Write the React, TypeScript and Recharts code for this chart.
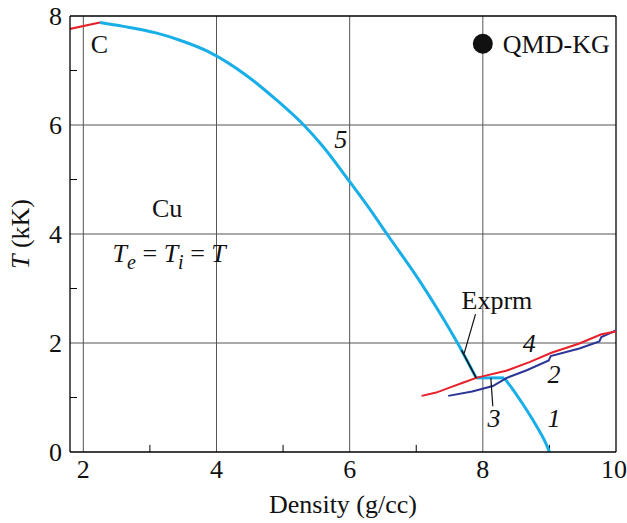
import React from 'react';
import { LineChart, Line, XAxis, YAxis, ReferenceLine, ReferenceDot } from 'recharts';

const FONT = 'Liberation Serif, Times New Roman, serif';

// axis ticks
const xTicks = [2, 4, 6, 8, 10];
const yTicks = [0, 2, 4, 6, 8];
const xMinor = [3, 5, 7, 9];
const yMinor = [1, 3, 5, 7];
const xGrid = [2, 4, 6, 8];
const yGrid = [2, 4, 6];

// curve 5 (cyan, upper branch)
const cyanUpper = [
  { x: 2.25, y: 7.88 }, { x: 2.6, y: 7.81 }, { x: 3.09, y: 7.69 }, { x: 3.44, y: 7.56 },
  { x: 3.87, y: 7.35 }, { x: 4.47, y: 6.89 }, { x: 4.9, y: 6.46 },
  { x: 5.31, y: 6.0 }, { x: 5.59, y: 5.62 }, { x: 6.0, y: 4.96 },
  { x: 6.3, y: 4.46 }, { x: 6.56, y: 4.0 }, { x: 7.05, y: 3.14 }, { x: 7.35, y: 2.56 },
  { x: 7.62, y: 2.0 }, { x: 7.9, y: 1.36 },
];
// curve 3 (cyan, flat part)
const cyanFlat = [{ x: 7.9, y: 1.36 }, { x: 8.32, y: 1.36 }];
// curve 1 (cyan, lower branch)
const cyanLower = [
  { x: 8.32, y: 1.36 }, { x: 8.45, y: 1.15 }, { x: 8.6, y: 0.88 }, { x: 8.75, y: 0.59 },
  { x: 8.87, y: 0.34 }, { x: 8.95, y: 0.15 }, { x: 9.0, y: 0.0 },
];
// red at top-left
const redTop = [{ x: 1.79, y: 7.76 }, { x: 2.25, y: 7.88 }];
// curve 4 (red)
const redCurve = [
  { x: 7.08, y: 1.03 }, { x: 7.3, y: 1.09 }, { x: 7.52, y: 1.19 }, { x: 7.7, y: 1.27 },
  { x: 7.9, y: 1.36 }, { x: 8.35, y: 1.49 }, { x: 8.7, y: 1.65 }, { x: 9.03, y: 1.82 },
  { x: 9.45, y: 1.99 }, { x: 9.78, y: 2.16 }, { x: 10.0, y: 2.21 },
];
// curve 2 (navy)
const navyCurve = [
  { x: 7.48, y: 1.03 }, { x: 7.84, y: 1.11 }, { x: 8.15, y: 1.21 }, { x: 8.36, y: 1.36 },
  { x: 8.66, y: 1.5 }, { x: 8.99, y: 1.68 }, { x: 9.02, y: 1.76 }, { x: 9.45, y: 1.9 },
  { x: 9.75, y: 2.03 }, { x: 9.78, y: 2.11 }, { x: 10.0, y: 2.23 },
];
// experiment segment and leaders
const exprmSeg = [{ x: 7.68, y: 1.87 }, { x: 7.9, y: 1.36 }];
const exprmLeader = [{ x: 7.89, y: 2.53 }, { x: 7.72, y: 1.81 }];
const leader3 = [{ x: 8.12, y: 1.36 }, { x: 8.15, y: 0.84 }];
// QMD-KG point
const qmdPoint = { x: 8.0, y: 7.49 };

// text annotations (data coords of left/baseline)
const annotations = [
  { x: 2.11, y: 7.33, text: 'C', italic: false },
  { x: 8.3, y: 7.32, text: 'QMD-KG', italic: false },
  { x: 5.77, y: 5.57, text: '5', italic: true },
  { x: 3.03, y: 4.31, text: 'Cu', italic: false },
  { x: 7.68, y: 2.62, text: 'Exprm', italic: false },
  { x: 8.6, y: 1.84, text: '4', italic: true },
  { x: 8.97, y: 1.26, text: '2', italic: true },
  { x: 8.07, y: 0.46, text: '3', italic: true },
  { x: 8.97, y: 0.46, text: '1', italic: true },
];
const equationAnchor = { x: 2.44, y: 3.49 };

const FS = 26;
const GRID = '#555';
const CYAN = '#18aee8';
const RED = '#e8202a';
const NAVY = '#2b3595';

export default function App() {
  return (
    <div>
      <style>{'body{margin:0}'}</style>
      <LineChart width={627} height={523} margin={{ top: 16, right: 11, bottom: 0, left: 8 }}>
        <XAxis
          dataKey="x"
          type="number"
          domain={[1.8, 10]}
          ticks={xTicks}
          allowDataOverflow
          tickLine={false}
          axisLine={{ stroke: '#000', strokeWidth: 1.3 }}
          height={71}
          tick={{ fill: '#111', fontSize: FS, fontFamily: FONT }}
          label={{
            content: (p: any) => {
              const vb = p.viewBox;
              return (
                <text x={vb.x + vb.width / 2} y={vb.y + 61} textAnchor="middle" fontSize={FS} fontFamily={FONT} fill="#111">
                  Density (g/cc)
                </text>
              );
            },
          }}
        />
        <YAxis
          type="number"
          domain={[0, 8]}
          ticks={yTicks}
          allowDataOverflow
          tickLine={false}
          axisLine={{ stroke: '#000', strokeWidth: 1.3 }}
          width={62}
          tick={{ fill: '#111', fontSize: FS, fontFamily: FONT }}
          label={{
            content: (p: any) => {
              const vb = p.viewBox;
              const cx = vb.x + 12;
              const cy = vb.y + vb.height / 2;
              return (
                <text x={cx} y={cy} transform={`rotate(-90 ${cx} ${cy})`} textAnchor="middle" dominantBaseline="central" fontSize={FS} fontFamily={FONT} fill="#111">
                  <tspan fontStyle="italic">T</tspan>
                  <tspan> (kK)</tspan>
                </text>
              );
            },
          }}
        />
        {xGrid.map((v) => (
          <ReferenceLine key={'gx' + v} x={v} stroke={GRID} strokeWidth={1} />
        ))}
        {yGrid.map((v) => (
          <ReferenceLine key={'gy' + v} y={v} stroke={GRID} strokeWidth={1} />
        ))}
        <ReferenceLine y={8} stroke="#000" strokeWidth={1.3} />
        <ReferenceLine x={10} stroke="#000" strokeWidth={1.3} />
        {xMinor.map((v) => (
          <ReferenceLine key={'mx' + v} segment={[{ x: v, y: 0 }, { x: v, y: 0.13 }]} stroke="#000" strokeWidth={1} />
        ))}
        {yMinor.map((v) => (
          <ReferenceLine key={'my' + v} segment={[{ x: 1.8, y: v }, { x: 1.905, y: v }]} stroke="#000" strokeWidth={1} />
        ))}
        <Line data={redTop} dataKey="y" type="linear" stroke={RED} strokeWidth={2.2} dot={false} isAnimationActive={false} />
        <Line data={cyanUpper} dataKey="y" type="monotone" stroke={CYAN} strokeWidth={3} dot={false} isAnimationActive={false} />
        <Line data={cyanFlat} dataKey="y" type="linear" stroke={CYAN} strokeWidth={3} dot={false} isAnimationActive={false} />
        <Line data={cyanLower} dataKey="y" type="monotone" stroke={CYAN} strokeWidth={3} dot={false} isAnimationActive={false} />
        <Line data={navyCurve} dataKey="y" type="linear" stroke={NAVY} strokeWidth={2} dot={false} isAnimationActive={false} />
        <Line data={redCurve} dataKey="y" type="linear" stroke={RED} strokeWidth={2} dot={false} isAnimationActive={false} />
        <Line data={exprmSeg} dataKey="y" type="linear" stroke="#111" strokeWidth={1.5} dot={false} isAnimationActive={false} />
        <Line data={exprmLeader} dataKey="y" type="linear" stroke="#111" strokeWidth={1.2} dot={false} isAnimationActive={false} />
        <Line data={leader3} dataKey="y" type="linear" stroke="#111" strokeWidth={1.2} dot={false} isAnimationActive={false} />
        <ReferenceDot x={qmdPoint.x} y={qmdPoint.y} r={10} fill="#111" stroke="none" />
        {annotations.map((a, i) => (
          <ReferenceDot
            key={'t' + i}
            x={a.x}
            y={a.y}
            r={1}
            shape={(p: any) => (
              <text x={p.cx} y={p.cy} fontSize={FS} fontFamily={FONT} fontStyle={a.italic ? 'italic' : 'normal'} fill="#111">
                {a.text}
              </text>
            )}
          />
        ))}
        <ReferenceDot
          x={equationAnchor.x}
          y={equationAnchor.y}
          r={1}
          shape={(p: any) => (
            <text x={p.cx} y={p.cy} fontSize={FS} fontFamily={FONT} fill="#111">
              <tspan fontStyle="italic">T</tspan>
              <tspan fontStyle="italic" fontSize={20} dy={7}>e</tspan>
              <tspan dy={-7}> = </tspan>
              <tspan fontStyle="italic">T</tspan>
              <tspan fontStyle="italic" fontSize={20} dy={7}>i</tspan>
              <tspan dy={-7}> = </tspan>
              <tspan fontStyle="italic">T</tspan>
            </text>
          )}
        />
      </LineChart>
    </div>
  );
}
